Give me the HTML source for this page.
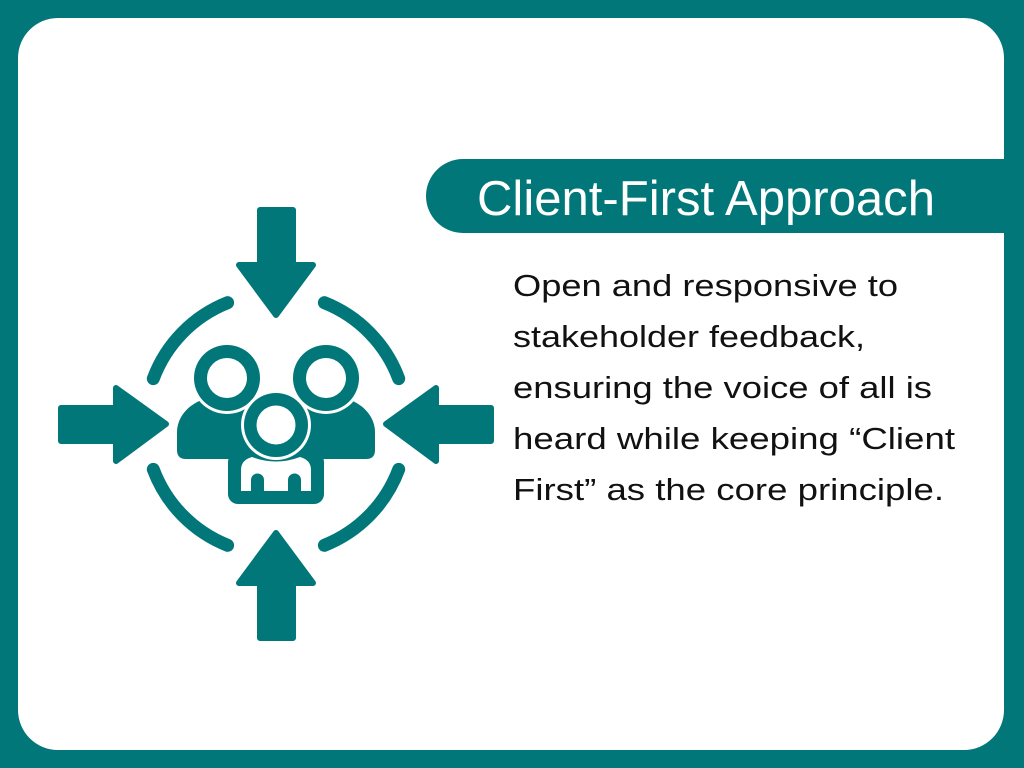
<!DOCTYPE html>
<html><head><meta charset="utf-8"><style>
html,body{margin:0;padding:0;background:#02777A;width:1024px;height:768px;overflow:hidden}
svg{display:block}
</style></head><body>
<svg width="1024" height="768" viewBox="0 0 1024 768" xmlns="http://www.w3.org/2000/svg">
<rect x="0" y="0" width="1024" height="768" fill="#02777A"/>
<rect x="18" y="18" width="986" height="732" rx="40" fill="#fff"/>
<path d="M463,159 H1004 V233 H463 A37,37 0 0 1 463,159 Z" fill="#02777A"/>
<text x="477" y="215" font-family="Liberation Sans, sans-serif" font-size="49" fill="#fff" textLength="458" lengthAdjust="spacingAndGlyphs">Client-First Approach</text>
<g font-family="Liberation Sans, sans-serif" font-size="31" fill="#111">
<text x="513" y="296" textLength="385" lengthAdjust="spacingAndGlyphs">Open and responsive to</text>
<text x="513" y="347" textLength="352" lengthAdjust="spacingAndGlyphs">stakeholder feedback,</text>
<text x="513" y="398" textLength="419" lengthAdjust="spacingAndGlyphs">ensuring the voice of all is</text>
<text x="513" y="449" textLength="442" lengthAdjust="spacingAndGlyphs">heard while keeping “Client</text>
<text x="513" y="500" textLength="431" lengthAdjust="spacingAndGlyphs">First” as the core principle.</text>
</g>
<g fill="#02777A" stroke="#02777A" stroke-linejoin="round" stroke-width="6">
<path d="M260,210 H293 V265 H313 L276,315 L239,265 H260 Z"/>
<path d="M260,638 H293 V583 H313 L276,533 L239,583 H260 Z"/>
<path d="M61,408 H116 V388 L166,424 L116,461 V441 H61 Z"/>
<path d="M491,408 H436 V388 L386,424 L436,461 V441 H491 Z"/>
</g>
<g fill="none" stroke="#02777A" stroke-width="13" stroke-linecap="round">
<path d="M227.6,302.7 A131,131 0 0 0 153.3,378.6"/>
<path d="M324.4,302.7 A131,131 0 0 1 398.7,378.6"/>
<path d="M227.6,545.3 A131,131 0 0 1 153.3,469.4"/>
<path d="M324.4,545.3 A131,131 0 0 0 398.7,469.4"/>
</g>
<path d="M177,450 V432 A45,36 0 0 1 222,396 H330 A45,36 0 0 1 375,432 V450 Q375,459 366,459 H186 Q177,459 177,450 Z" fill="#02777A"/>
<circle cx="227" cy="378" r="36" fill="#fff"/>
<circle cx="326" cy="378" r="36" fill="#fff"/>
<circle cx="227" cy="378" r="33" fill="#02777A"/>
<circle cx="326" cy="378" r="33" fill="#02777A"/>
<circle cx="227" cy="378" r="20" fill="#fff"/>
<circle cx="326" cy="378" r="20" fill="#fff"/>
<rect x="228" y="452" width="96" height="52" rx="10" fill="#02777A"/>
<circle cx="276" cy="425" r="35" fill="#fff"/>
<circle cx="276" cy="425" r="32" fill="#02777A"/>
<circle cx="276" cy="425" r="19.5" fill="#fff"/>
<path fill="#fff" d="M241,491 V470 Q241,460 252,457 Q276,466 300,457 Q311,460 311,470 V491 H301 V480 A6.5,6.5 0 0 0 288,480 V491 H264 V480 A6.5,6.5 0 0 0 251,480 V491 Z"/>
</svg>
</body></html>
